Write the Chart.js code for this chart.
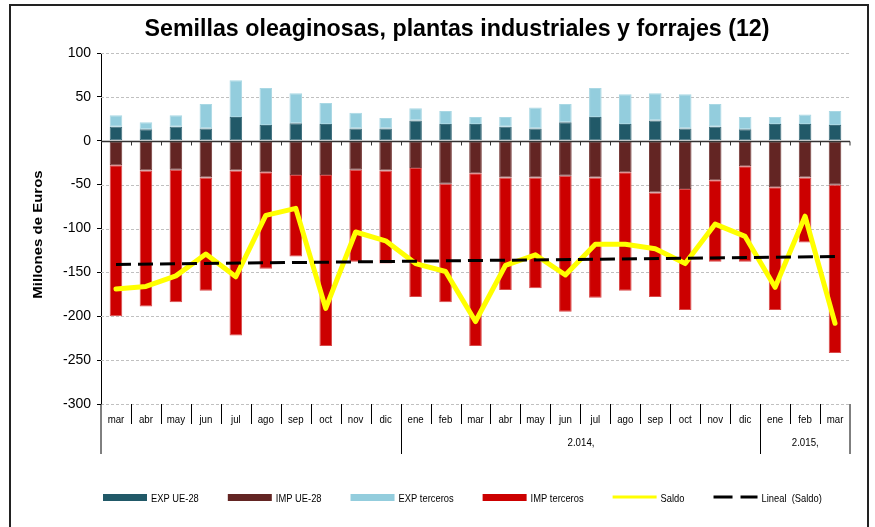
<!DOCTYPE html>
<html>
<head>
<meta charset="utf-8">
<title>Semillas oleaginosas, plantas industriales y forrajes (12)</title>
<script src="https://cdn.jsdelivr.net/npm/chart.js@4.4.1/dist/chart.umd.min.js"></script>
<style>
    html, body { margin: 0; padding: 0; background: #fff; }
    #wrap { position: relative; width: 875px; height: 527px; }
</style>
</head>
<body>
<div id="wrap"><canvas id="semillas-chart"></canvas></div>
<script>
// Monthly trade series, millions of euros
const months = ['mar', 'abr', 'may', 'jun', 'jul', 'ago', 'sep', 'oct', 'nov', 'dic',
    'ene', 'feb', 'mar', 'abr', 'may', 'jun', 'jul', 'ago', 'sep', 'oct', 'nov', 'dic',
    'ene', 'feb', 'mar'];
const yearLabels = ['', '2.014,', '2.015,'];
const yearSpans = [10, 12, 3];

const expUE = [16, 13, 16, 14, 27, 18, 20, 19, 14, 14,
    23, 19, 19, 16, 14, 21, 27, 19, 23, 14, 16, 13,
    19, 19, 18];
const impUE = [-28, -34, -33, -42, -34, -36, -39, -39, -33, -34,
    -31, -49, -37, -42, -42, -40, -42, -36, -59, -55, -45, -29,
    -53, -42, -50];
const expTerceros = [13, 8, 13, 28, 42, 42, 34, 24, 18, 12,
    14, 15, 8, 11, 24, 21, 33, 34, 31, 39, 26, 14,
    8, 11, 16];
const impTerceros = [-172, -155, -151, -129, -188, -110, -93, -195, -105, -106,
    -147, -135, -197, -128, -126, -155, -137, -135, -119, -138, -93, -109,
    -140, -74, -192];
const saldo = [-169, -166, -154, -129, -155, -85, -77, -191, -104, -114,
    -140, -149, -206, -142, -130, -153, -118, -118, -123, -140, -95, -109,
    -167, -86, -208];
// linear trend of saldo, first and last month
const trendEnds = [-141, -132];

const yTicks = { min: -300, max: 100, step: 50 };

const FONT = "'Liberation Sans', Arial, sans-serif";

const legendItems = [
    { text: 'EXP UE-28', kind: 'box', color: '#215968' },
    { text: 'IMP UE-28', kind: 'box', color: '#632523' },
    { text: 'EXP terceros', kind: 'box', color: '#93cddd' },
    { text: 'IMP terceros', kind: 'box', color: '#cc0000' },
    { text: 'Saldo', kind: 'line', color: '#ffff00' },
    { text: 'Lineal  (Saldo)', kind: 'dash', color: '#000000' }
];

// straight trend: only the two ends, gap spanned by the line
const trendData = months.map((m, i) => i === 0 ? trendEnds[0] : (i === months.length - 1 ? trendEnds[1] : null));

function squeezedText(ctx, text, x, y, sx, align) {
    ctx.save();
    ctx.translate(x, y);
    ctx.scale(sx, 1);
    ctx.textAlign = align;
    ctx.fillText(text, 0, 0);
    ctx.restore();
}

const framePlugin = {
    id: 'frame',
    beforeDraw(chart) {
        const ctx = chart.ctx;
        ctx.save();
        ctx.fillStyle = '#fff';
        ctx.fillRect(0, 0, chart.width, chart.height);
        ctx.strokeStyle = '#222';
        ctx.lineWidth = 2;
        ctx.strokeRect(10, 5, 858, 540);
        ctx.restore();
    }
};

const gridPlugin = {
    id: 'dashedGrid',
    beforeDatasetsDraw(chart) {
        const { ctx, chartArea: a, scales: { y } } = chart;
        ctx.save();
        ctx.strokeStyle = '#c0c0c0';
        ctx.lineWidth = 1;
        ctx.setLineDash([3, 2]);
        y.ticks.forEach(t => {
            if (t.value === 0) return;
            const py = Math.round(y.getPixelForValue(t.value)) + 0.5;
            ctx.beginPath();
            ctx.moveTo(a.left, py);
            ctx.lineTo(a.right, py);
            ctx.stroke();
        });
        ctx.restore();
    },
    afterDatasetsDraw(chart) {
        // category axis crossing at zero, with small ticks between months
        const { ctx, chartArea: a, scales: { x, y } } = chart;
        const py = Math.round(y.getPixelForValue(0)) + 0.5;
        ctx.save();
        ctx.strokeStyle = '#333';
        ctx.lineWidth = 1.5;
        ctx.beginPath();
        ctx.moveTo(a.left, py);
        ctx.lineTo(a.right, py);
        ctx.stroke();
        ctx.lineWidth = 1;
        for (let i = 1; i <= months.length; i++) {
            const bx = i < months.length
                ? Math.round((x.getPixelForValue(i - 1) + x.getPixelForValue(i)) / 2) + 0.5
                : a.right;
            ctx.beginPath();
            ctx.moveTo(bx, py);
            ctx.lineTo(bx, py + 4);
            ctx.stroke();
        }
        ctx.restore();
    }
};

const axisLabelsPlugin = {
    id: 'axisLabels',
    afterDraw(chart) {
        const { ctx, chartArea: a, scales: { x } } = chart;
        const groupEdges = [0];
        yearSpans.forEach(s => groupEdges.push(groupEdges[groupEdges.length - 1] + s));
        const edgeX = i => {
            if (i === 0) return a.left;
            if (i === months.length) return a.right;
            return Math.round((x.getPixelForValue(i - 1) + x.getPixelForValue(i)) / 2) + 0.5;
        };

        ctx.save();
        ctx.strokeStyle = '#000';
        ctx.lineWidth = 1;
        for (let i = 0; i <= months.length; i++) {
            const long = groupEdges.includes(i);
            const bx = edgeX(i);
            ctx.beginPath();
            ctx.moveTo(bx, a.bottom);
            ctx.lineTo(bx, long ? a.bottom + 50 : a.bottom + 20);
            ctx.stroke();
        }

        ctx.fillStyle = '#000';
        ctx.textBaseline = 'middle';
        ctx.font = '11px ' + FONT;
        months.forEach((m, i) => {
            squeezedText(ctx, m, x.getPixelForValue(i), a.bottom + 16, 0.88, 'center');
        });
        yearLabels.forEach((lbl, g) => {
            if (!lbl) return;
            const cx = (edgeX(groupEdges[g]) + edgeX(groupEdges[g + 1])) / 2;
            squeezedText(ctx, lbl, cx, a.bottom + 39, 0.88, 'center');
        });

        // title
        ctx.font = 'bold 24px ' + FONT;
        ctx.textBaseline = 'alphabetic';
        const title = 'Semillas oleaginosas, plantas industriales y forrajes (12)';
        const tw = ctx.measureText(title).width;
        squeezedText(ctx, title, 457, 36, 625 / tw, 'center');

        // value axis title
        ctx.save();
        ctx.font = 'bold 15px ' + FONT;
        ctx.textBaseline = 'middle';
        ctx.translate(38, (a.top + a.bottom) / 2 + 6);
        ctx.rotate(-Math.PI / 2);
        ctx.scale(1, 0.85);
        ctx.textAlign = 'center';
        ctx.fillText('Millones de Euros', 0, 0);
        ctx.restore();

        // legend row
        ctx.font = '11px ' + FONT;
        ctx.textBaseline = 'middle';
        let lx = 103;
        const ly = 498;
        legendItems.forEach(item => {
            ctx.save();
            if (item.kind === 'box') {
                ctx.fillStyle = item.color;
                ctx.fillRect(lx, ly - 4, 44, 7);
            } else {
                ctx.strokeStyle = item.color;
                ctx.lineWidth = 3;
                if (item.kind === 'dash') ctx.setLineDash([19, 8]);
                ctx.beginPath();
                ctx.moveTo(lx, ly - 1);
                ctx.lineTo(lx + 44, ly - 1);
                ctx.stroke();
            }
            ctx.restore();
            lx += 48;
            ctx.fillStyle = '#000';
            squeezedText(ctx, item.text, lx, ly + 1, 0.85, 'left');
            lx += ctx.measureText(item.text).width * 0.85 + 29;
        });
        ctx.restore();
    }
};

function barSet(label, data, color, border) {
    return {
        type: 'bar',
        label: label,
        data: data,
        backgroundColor: color,
        borderColor: border,
        borderWidth: 1,
        borderSkipped: false,
        categoryPercentage: 1,
        barPercentage: 0.42
    };
}

const ctx = document.getElementById('semillas-chart').getContext('2d');
new Chart(ctx, {
    type: 'bar',
    data: {
        labels: months,
        datasets: [
            barSet('EXP UE-28', expUE, '#215968', '#3f6f7d'),
            barSet('IMP UE-28', impUE, '#632523', '#743a39'),
            barSet('EXP terceros', expTerceros, '#93cddd', '#a9d8e4'),
            barSet('IMP terceros', impTerceros, '#cc0000', '#d94a4a'),
            {
                type: 'line',
                label: 'Saldo',
                data: saldo,
                stack: 'saldo',
                order: -1,
                borderColor: '#ffff00',
                borderWidth: 5,
                borderJoinStyle: 'round',
                borderCapStyle: 'round',
                pointRadius: 0,
                tension: 0,
                fill: false
            },
            {
                type: 'line',
                label: 'Lineal (Saldo)',
                data: trendData,
                stack: 'trend',
                order: -2,
                borderColor: '#000000',
                borderWidth: 3,
                borderDash: [15, 7],
                pointRadius: 0,
                spanGaps: true,
                fill: false
            }
        ]
    },
    options: {
        responsive: true,
        maintainAspectRatio: false,
        animation: false,
        devicePixelRatio: 1,
        events: [],
        layout: {
            padding: { top: 53, left: 20, right: 25, bottom: 123 }
        },
        scales: {
            x: {
                stacked: true,
                display: false
            },
            y: {
                stacked: true,
                min: yTicks.min,
                max: yTicks.max,
                afterFit: scale => { scale.width = 81; },
                ticks: {
                    stepSize: yTicks.step,
                    color: '#000',
                    padding: 6,
                    font: { family: FONT, size: 14 }
                },
                grid: {
                    drawOnChartArea: false,
                    drawTicks: true,
                    tickLength: 4,
                    tickColor: '#000'
                },
                border: { display: true, color: '#000', width: 1 }
            }
        },
        plugins: {
            legend: { display: false },
            title: { display: false },
            tooltip: { enabled: false }
        }
    },
    plugins: [framePlugin, gridPlugin, axisLabelsPlugin]
});
</script>
</body>
</html>
